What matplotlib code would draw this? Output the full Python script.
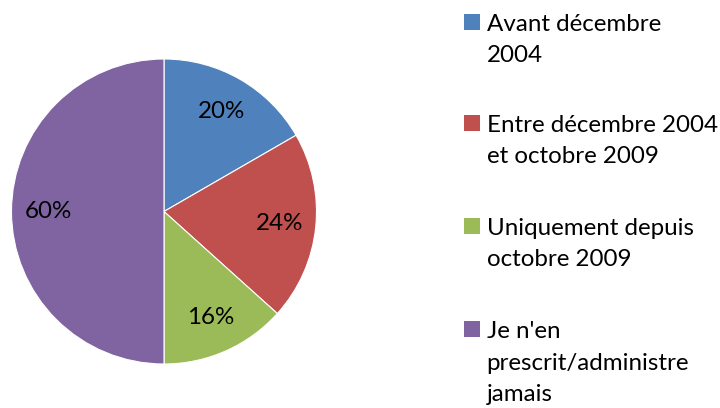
import matplotlib
matplotlib.use("Agg")
import matplotlib.pyplot as plt
from matplotlib.patches import Rectangle

categories = ["Avant décembre\n2004",
              "Entre décembre 2004\net octobre 2009",
              "Uniquement depuis\noctobre 2009",
              "Je n'en\nprescrit/administre\njamais"]
values = [20, 24, 16, 60]
value_labels = ["20%", "24%", "16%", "60%"]
colors = ["#4F81BD", "#C0504D", "#9BBB59", "#8064A2"]

W, H = 720, 408
FONT = "Lato"
FS = 17.4

fig = plt.figure(figsize=(W / 100, H / 100), dpi=100)
fig.patch.set_facecolor("white")

cx, cy, r = 164, 211.5, 152.5
ax = fig.add_axes([(cx - r) / W, (H - cy - r) / H, 2 * r / W, 2 * r / H])
wedges, texts = ax.pie(values, labels=value_labels, colors=colors,
                       startangle=90, counterclock=False, radius=1,
                       labeldistance=0.76,
                       wedgeprops=dict(edgecolor="white", linewidth=0.8),
                       textprops=dict(fontsize=FS, family=FONT, color="black",
                                      ha="center", va="center"))
ax.set_xlim(-1, 1)
ax.set_ylim(-1, 1)
ax.set_axis_off()

# legend (manual)
entry_first_baseline = [31, 131.5, 235, 338.3]
line_step = 31.2
sq_x, sq_w = 464, 16
txt_x = 486.5
for lab, col, yb in zip(categories, colors, entry_first_baseline):
    lines = lab.split("\n")
    for i, ln in enumerate(lines):
        fig.text(txt_x / W, 1 - (yb + i * line_step) / H, ln, fontsize=FS,
                 family=FONT, color="black", ha="left", va="baseline")
    fig.patches.append(Rectangle((sq_x / W, 1 - (yb - 1) / H), sq_w / W, sq_w / H,
                                 transform=fig.transFigure, facecolor=col,
                                 edgecolor="none"))

fig.savefig("out.png", dpi=100)
